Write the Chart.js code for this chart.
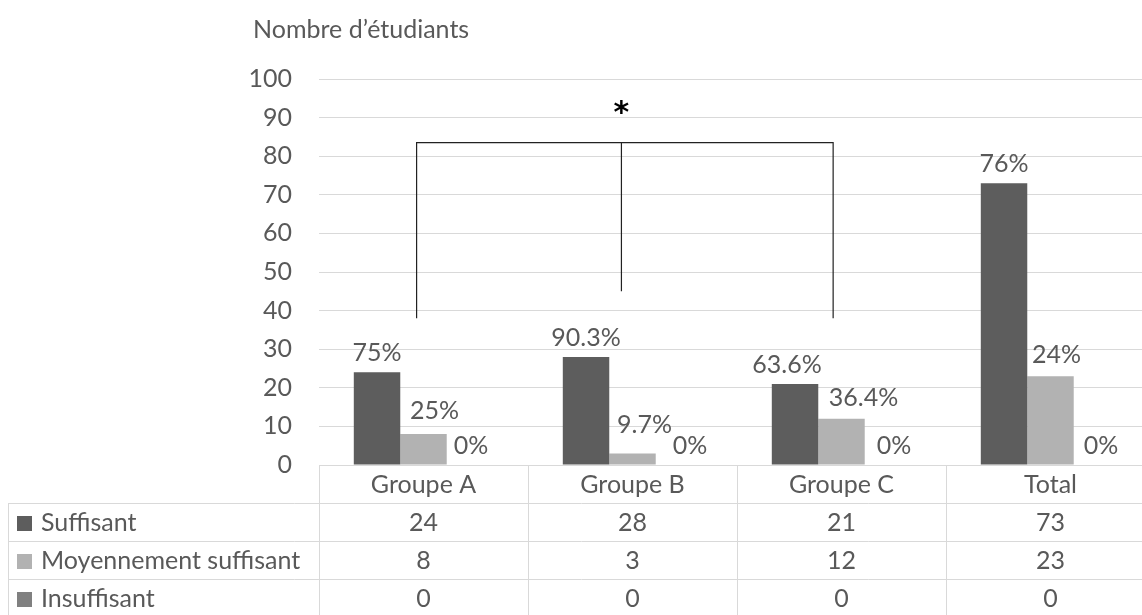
<!DOCTYPE html>
<html>
<head>
<meta charset="utf-8">
<script src="https://cdn.jsdelivr.net/npm/chart.js@4"></script>
<style>
  html, body { margin: 0; padding: 0; background: #fff; overflow: hidden; }
  #wrap { width: 1142px; height: 615px; overflow: hidden; }
</style>
</head>
<body>
<div id="wrap"><canvas id="studentsChart" width="1160" height="615"></canvas></div>
<script>
const categories = ["Groupe A", "Groupe B", "Groupe C", "Total"];
const seriesNames = ["Suffisant", "Moyennement suffisant", "Insuffisant"];
const suffisant = [24, 28, 21, 73];
const moyennement = [8, 3, 12, 23];
const insuffisant = [0, 0, 0, 0];
const pctSuffisant = ["75%", "90.3%", "63.6%", "76%"];
const pctMoyennement = ["25%", "9.7%", "36.4%", "24%"];
const pctInsuffisant = ["0%", "0%", "0%", "0%"];
const yTicks = [0, 10, 20, 30, 40, 50, 60, 70, 80, 90, 100];

const colors = ["#5d5d5d", "#b2b2b2", "#808080"];
const textColor = "#595959";
const lineColor = "#d9d9d9";
const font = "Lato, 'Open Sans', sans-serif";

// label nudges (px) so neighbouring labels don't collide, as in the original
const labelShift = [[0, 0, -8, 0], [11, 12, 22, 6], [1, 11, 6, 4]];
const labelLift = [[0, 0, 0, 0], [4, 9, 2, 2], [0, 0, 0, 0]];

// bracket: A..C, in category index / value units
const bracket = { from: -0.033, to: 1.96, mid: 0.947, top: 83.5, legLeft: 38, legRight: 38, legMid: 45 };

const allSeries = [suffisant, moyennement, insuffisant];
const allPct = [pctSuffisant, pctMoyennement, pctInsuffisant];

const extras = {
  id: "extras",
  afterDatasetsDraw(chart) {
    const ctx = chart.ctx;
    const x = chart.scales.x;
    const y = chart.scales.y;
    const area = chart.chartArea;

    // percentage labels
    ctx.save();
    ctx.font = "25px " + font;
    ctx.fillStyle = textColor;
    ctx.textAlign = "center";
    ctx.textBaseline = "alphabetic";
    chart.data.datasets.forEach((ds, i) => {
      chart.getDatasetMeta(i).data.forEach((bar, j) => {
        ctx.fillText(allPct[i][j], bar.x + labelShift[i][j], bar.y - 11 - labelLift[i][j]);
      });
    });
    ctx.restore();

    // significance bracket
    const step = x.getPixelForValue(1) - x.getPixelForValue(0);
    const px = v => x.getPixelForValue(0) + v * step;
    ctx.save();
    ctx.strokeStyle = "#222";
    ctx.lineWidth = 1.2;
    ctx.beginPath();
    ctx.moveTo(px(bracket.from), y.getPixelForValue(bracket.legLeft));
    ctx.lineTo(px(bracket.from), y.getPixelForValue(bracket.top));
    ctx.lineTo(px(bracket.to), y.getPixelForValue(bracket.top));
    ctx.lineTo(px(bracket.to), y.getPixelForValue(bracket.legRight));
    ctx.moveTo(px(bracket.mid), y.getPixelForValue(bracket.top));
    ctx.lineTo(px(bracket.mid), y.getPixelForValue(bracket.legMid));
    ctx.stroke();
    ctx.fillStyle = "#000";
    ctx.font = "bold 30px 'DejaVu Sans', sans-serif";
    ctx.textAlign = "center";
    ctx.textBaseline = "middle";
    ctx.fillText("*", px(bracket.mid), y.getPixelForValue(bracket.top) - 28);
    ctx.restore();

    // axis title
    ctx.save();
    ctx.font = "25px " + font;
    ctx.fillStyle = textColor;
    ctx.textAlign = "left";
    ctx.textBaseline = "middle";
    ctx.fillText("Nombre d\u2019\u00e9tudiants", 253, 30);
    ctx.restore();

    // data table
    const rowH = 38;
    const top = area.bottom;
    const left = 8;
    const edges = categories.map((c, i) => px(i - 0.5));
    edges.push(px(categories.length - 0.5));
    ctx.save();
    ctx.strokeStyle = lineColor;
    ctx.lineWidth = 1;
    ctx.beginPath();
    ctx.moveTo(area.left, top + 0.5);
    ctx.lineTo(area.right, top + 0.5);
    for (let r = 1; r <= 4; r++) {
      const yy = Math.round(top + r * rowH) + 0.5;
      ctx.moveTo(left, yy);
      ctx.lineTo(area.right, yy);
    }
    edges.forEach(e => {
      ctx.moveTo(Math.round(e) + 0.5, top);
      ctx.lineTo(Math.round(e) + 0.5, top + 4 * rowH);
    });
    ctx.moveTo(left + 0.5, top + rowH);
    ctx.lineTo(left + 0.5, top + 4 * rowH);
    ctx.stroke();

    ctx.font = "25px " + font;
    ctx.fillStyle = textColor;
    ctx.textBaseline = "middle";
    ctx.textAlign = "center";
    categories.forEach((c, i) => {
      ctx.fillText(c, px(i), top + rowH / 2 + 1);
    });
    seriesNames.forEach((name, r) => {
      const cy = top + (r + 1.5) * rowH + 1;
      ctx.fillStyle = colors[r];
      ctx.fillRect(left + 9, cy - 7, 15, 15);
      ctx.fillStyle = textColor;
      ctx.textAlign = "left";
      ctx.fillText(name, left + 33, cy);
      ctx.textAlign = "center";
      allSeries[r].forEach((v, i) => ctx.fillText(String(v), px(i), cy));
    });
    ctx.restore();
  }
};

new Chart(document.getElementById("studentsChart"), {
  type: "bar",
  data: {
    labels: categories,
    datasets: seriesNames.map((name, i) => ({
      label: name,
      data: allSeries[i],
      backgroundColor: colors[i],
      barPercentage: 1,
      categoryPercentage: 0.667
    }))
  },
  options: {
    responsive: false,
    animation: false,
    layout: { padding: { top: 79, right: 5, bottom: 150, left: 0 } },
    plugins: {
      legend: { display: false },
      tooltip: { enabled: false }
    },
    scales: {
      x: {
        display: false,
        grid: { display: false }
      },
      y: {
        min: 0,
        max: 100,
        afterFit(scale) { scale.width = 319; },
        afterBuildTicks(scale) { scale.ticks = yTicks.map(v => ({ value: v })); },
        border: { display: false },
        grid: { color: lineColor, drawTicks: false },
        ticks: {
          color: textColor,
          font: { family: font, size: 25 },
          padding: 27
        }
      }
    }
  },
  plugins: [extras]
});
</script>
</body>
</html>
